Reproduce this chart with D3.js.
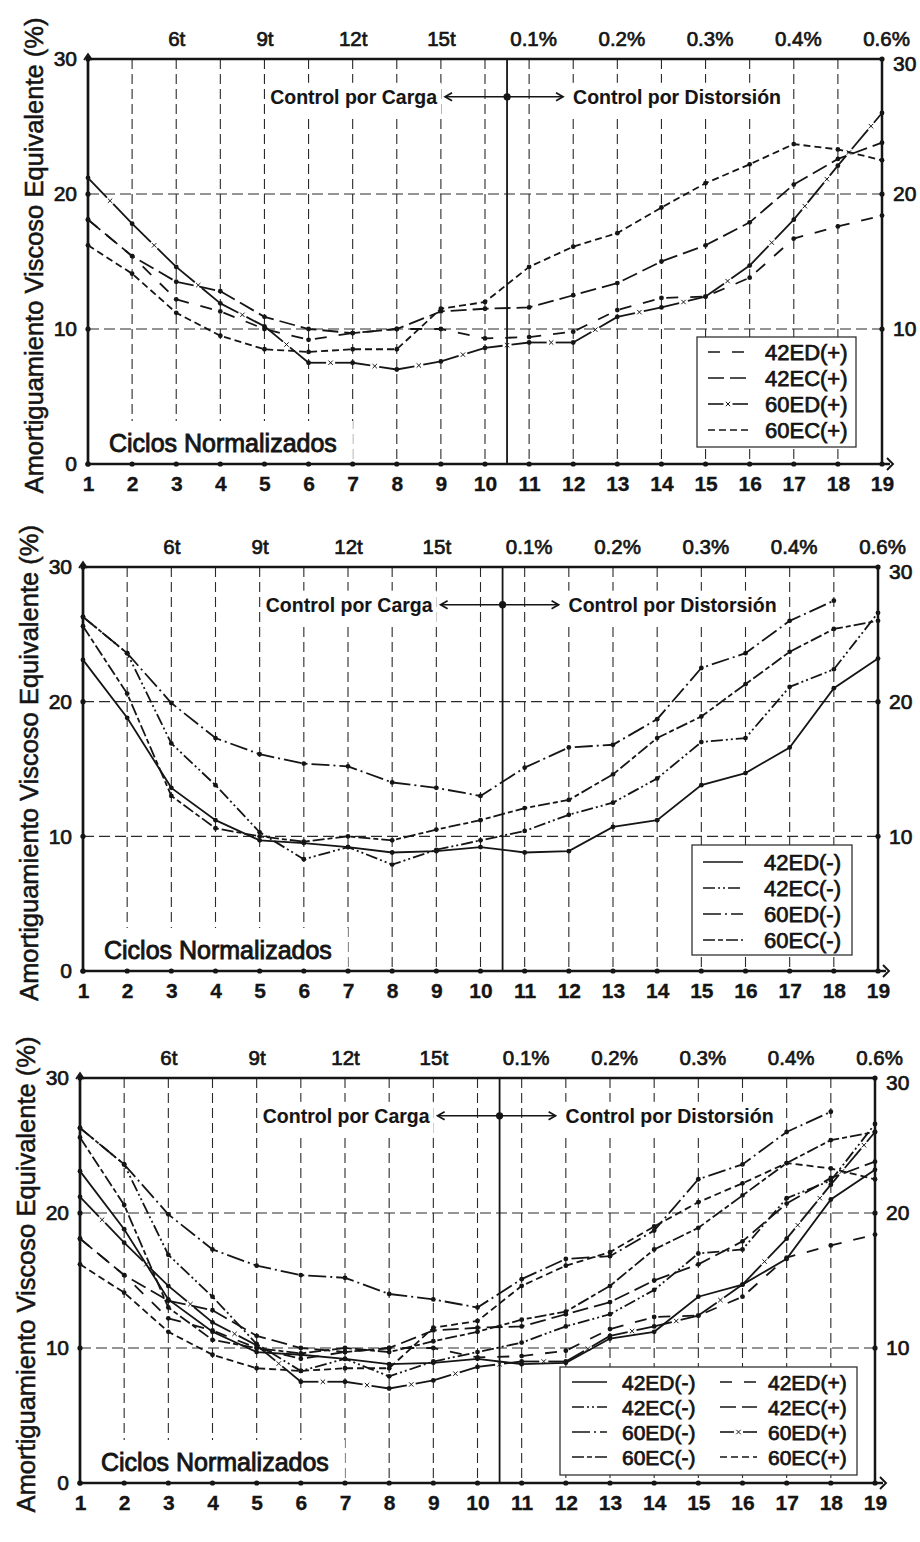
<!DOCTYPE html>
<html><head><meta charset="utf-8">
<script src="https://cdn.jsdelivr.net/npm/d3@7"></script>
<style>
html,body{margin:0;padding:0;background:#fff;}
svg{display:block;}
text{font-family:"Liberation Sans",Arial,Helvetica,sans-serif;fill:#151515;}
</style></head><body>
<svg id="chart" width="920" height="1542"></svg>
<script>
// ---------------- data ----------------
const cycles = [1,2,3,4,5,6,7,8,9,10,11,12,13,14,15,16,17,18,19];
const yTicks = [0,10,20,30];
const yTicksRight = [10,20,30];
const topTickCycles = [3,5,7,9,11,13,15,17,19];
const topTickLabels = ["6t","9t","12t","15t","0.1%","0.2%","0.3%","0.4%","0.6%"];
const switchCycle = 10.5;
const switchLevel = 27.2;
const loadLabel = "Control por Carga";
const driftLabel = "Control por Distorsión";
const xTitle = "Ciclos Normalizados";
const yTitle = "Amortiguamiento Viscoso Equivalente (%)";

const plusNames  = ["42ED(+)","42EC(+)","60ED(+)","60EC(+)"];
const minusNames = ["42ED(-)","42EC(-)","60ED(-)","60EC(-)"];

const v42EDplus  = [18.1,15.4,12.2,11.3,10.0,9.2,9.7,10.0,10.0,9.3,9.4,9.8,11.4,12.3,12.4,13.8,16.7,17.6,18.4];
const v42ECplus  = [18.1,15.4,13.5,12.8,10.9,10.0,9.7,10.0,11.3,11.5,11.6,12.5,13.4,15.0,16.2,17.9,20.7,22.6,23.8];
const v60EDplus  = [21.2,17.8,14.6,11.9,10.2,7.5,7.5,7.0,7.6,8.6,9.0,9.0,10.9,11.6,12.4,14.7,18.1,22.1,26.0];
const v60ECplus  = [16.2,14.1,11.2,9.5,8.5,8.3,8.5,8.5,11.5,12.0,14.6,16.1,17.1,19.0,20.8,22.2,23.7,23.3,22.5];

const v42EDminus = [23.1,18.8,13.6,11.2,9.7,9.5,9.2,8.8,8.9,9.2,8.8,8.9,10.7,11.2,13.8,14.7,16.6,21.0,23.2];
const v42ECminus = [26.3,23.6,16.9,13.8,10.3,8.3,9.2,7.9,9.0,9.7,10.4,11.6,12.5,14.3,17.0,17.3,21.1,22.4,26.6];
const v60EDminus = [26.3,23.6,19.9,17.3,16.1,15.4,15.2,14.0,13.6,13.0,15.1,16.6,16.8,18.7,22.5,23.6,26.0,27.5,null];
const v60ECminus = [25.6,20.6,13.0,10.6,10.0,9.6,10.0,9.7,10.5,11.2,12.1,12.7,14.6,17.3,18.9,21.3,23.7,25.4,26.0];

// ---------------- styling ----------------
const INK = "#151515";
const lineStyles = {
  "42ED(+)": {dash:"12,12"},
  "42EC(+)": {dash:"16,6"},
  "60ED(+)": {dash:null, xmarks:true},
  "60EC(+)": {dash:"7,4"},
  "42ED(-)": {dash:null},
  "42EC(-)": {dash:"12,3,2,3,2,3"},
  "60ED(-)": {dash:"18,4,2,4"},
  "60EC(-)": {dash:"12,3,5,3"}
};
const plusSeries = [
  {name:plusNames[0], values:v42EDplus},
  {name:plusNames[1], values:v42ECplus},
  {name:plusNames[2], values:v60EDplus},
  {name:plusNames[3], values:v60ECplus}
];
const minusSeries = [
  {name:minusNames[0], values:v42EDminus},
  {name:minusNames[1], values:v42ECminus},
  {name:minusNames[2], values:v60EDminus},
  {name:minusNames[3], values:v60ECminus}
];

const panels = [
  {left:88, right:882, top:59, bottom:464, series:plusSeries,
   legend:{cols:[plusSeries], rightInset:26, bottomInset:17, width:159, height:110, rowTop:15, rowGap:26, font:22,
           colX:[{s0:11,s1:51,t:68}]}},
  {left:83, right:878, top:567, bottom:971, series:minusSeries,
   legend:{cols:[minusSeries], rightInset:26, bottomInset:16, width:160, height:110, rowTop:17, rowGap:26, font:22,
           colX:[{s0:11,s1:51,t:72}]}},
  {left:80, right:875, top:1078, bottom:1483, series:minusSeries.concat(plusSeries),
   legend:{cols:[minusSeries, plusSeries], rightInset:18, bottomInset:8, width:297, height:108, rowTop:15, rowGap:25, font:21,
           colX:[{s0:12,s1:47,t:62},{s0:160,s1:197,t:208}]}}
];

const svg = d3.select("#chart");

function heavy(sel, w){ return sel.attr("stroke", INK).attr("stroke-width", w==null?0.6:w); }

function drawX(g, cx, cy){
  const r = 2.2;
  g.append("path").attr("d", `M${cx-r},${cy-r}L${cx+r},${cy+r}M${cx-r},${cy+r}L${cx+r},${cy-r}`)
    .attr("stroke", INK).attr("stroke-width", 1).attr("fill","none");
}

function segWithX(g, x0, y0, x1, y1, width){
  const len = Math.hypot(x1-x0, y1-y0);
  const n = Math.max(1, Math.round(len/45));
  const ux = (x1-x0)/len, uy = (y1-y0)/len, gap = 4.5;
  let prev = 0;
  for (let k=0;k<n;k++){
    const f = (k+0.5)/n*len;
    g.append("line").attr("x1", x0+ux*prev).attr("y1", y0+uy*prev)
      .attr("x2", x0+ux*(f-gap)).attr("y2", y0+uy*(f-gap))
      .attr("stroke", INK).attr("stroke-width", width);
    drawX(g, x0+ux*f, y0+uy*f);
    prev = f+gap;
  }
  g.append("line").attr("x1", x0+ux*prev).attr("y1", y0+uy*prev)
    .attr("x2", x1).attr("y2", y1).attr("stroke", INK).attr("stroke-width", width);
}

function drawSeries(g, s, x, y){
  const st = lineStyles[s.name];
  const pts = cycles.map((c,i)=>[c, s.values[i]]).filter(d=>d[1]!=null);
  if (st.xmarks){
    for (let i=0;i<pts.length-1;i++){
      segWithX(g, x(pts[i][0]), y(pts[i][1]), x(pts[i+1][0]), y(pts[i+1][1]), 1.8);
    }
  } else {
    g.append("path").datum(pts)
      .attr("d", d3.line().x(d=>x(d[0])).y(d=>y(d[1])))
      .attr("fill","none").attr("stroke", INK).attr("stroke-width", 1.8)
      .attr("stroke-dasharray", st.dash);
  }
  g.selectAll(null).data(pts).enter().append("circle")
    .attr("cx", d=>x(d[0])).attr("cy", d=>y(d[1])).attr("r", 2.4).attr("fill", INK);
}

function whiteBehind(gBg, textSel, padL, padR, padT, padB, bottomTo){
  const b = textSel.node().getBBox();
  const y0 = b.y - padT;
  const y1 = bottomTo!=null ? bottomTo : b.y + b.height + padB;
  gBg.append("rect").attr("x", b.x - padL).attr("y", y0)
    .attr("width", b.width + padL + padR).attr("height", y1 - y0).attr("fill","#fff");
}

panels.forEach(p => {
  const x = d3.scaleLinear().domain([1,19]).range([p.left, p.right]);
  const y = d3.scaleLinear().domain([0,30]).range([p.bottom, p.top]);
  const G = svg.append("g");
  const gGrid = G.append("g");
  const gBg = G.append("g");
  const gData = G.append("g");
  const gAxes = G.append("g");
  const gText = G.append("g");

  // grid
  gGrid.selectAll(null).data(cycles.filter(c=>c>1 && c<19)).enter().append("line")
    .attr("x1", d=>x(d)).attr("x2", d=>x(d)).attr("y1", y(30)).attr("y2", y(0))
    .attr("stroke", "#2a2a2a").attr("stroke-width", 1.1).attr("stroke-dasharray","10,5");
  gGrid.selectAll(null).data([10,20]).enter().append("line")
    .attr("x1", x(1)).attr("x2", x(19)).attr("y1", d=>y(d)).attr("y2", d=>y(d))
    .attr("stroke", "#2a2a2a").attr("stroke-width", 1.1).attr("stroke-dasharray","11,5");

  // texts: control labels & x title (with white backgrounds)
  const cx = x(switchCycle), cy = y(switchLevel);
  const tLoad = heavy(gText.append("text").attr("x", cx - 70).attr("y", cy + 7)
    .attr("text-anchor","end").attr("font-size", 19.5).attr("font-weight","bold").text(loadLabel), 0.1);
  const tDrift = heavy(gText.append("text").attr("x", cx + 66).attr("y", cy + 7)
    .attr("text-anchor","start").attr("font-size", 19.5).attr("font-weight","bold").text(driftLabel), 0.1);
  const tX = heavy(gText.append("text").attr("x", p.left + 21).attr("y", p.bottom - 12)
    .attr("font-size", 25).text(xTitle), 0.9);
  whiteBehind(gBg, tLoad, 2, 4, 3, 9);
  whiteBehind(gBg, tDrift, 4, 3, 3, 9);
  whiteBehind(gBg, tX, 6, 16, 8, 0, p.bottom);

  // series
  p.series.forEach(s => drawSeries(gData, s, x, y));

  // switch line + arrows
  gAxes.append("line").attr("x1", cx).attr("x2", cx).attr("y1", y(30)).attr("y2", y(0))
    .attr("stroke", INK).attr("stroke-width", 1.8);
  const aL = cx - 62, aR = cx + 56;
  gAxes.append("line").attr("x1", aL).attr("x2", aR).attr("y1", cy).attr("y2", cy)
    .attr("stroke", INK).attr("stroke-width", 1.6);
  gAxes.append("path").attr("d", `M${aL+7},${cy-4}L${aL},${cy}L${aL+7},${cy+4}`)
    .attr("fill","none").attr("stroke", INK).attr("stroke-width", 1.7);
  gAxes.append("path").attr("d", `M${aR-7},${cy-4}L${aR},${cy}L${aR-7},${cy+4}`)
    .attr("fill","none").attr("stroke", INK).attr("stroke-width", 1.7);
  gAxes.append("circle").attr("cx", cx).attr("cy", cy).attr("r", 3.6).attr("fill", INK);

  // frame
  gAxes.append("line").attr("x1", x(1)).attr("x2", x(19)).attr("y1", y(30)).attr("y2", y(30))
    .attr("stroke", INK).attr("stroke-width", 2.3);
  gAxes.append("line").attr("x1", x(19)).attr("x2", x(19)).attr("y1", y(30)).attr("y2", y(0))
    .attr("stroke", INK).attr("stroke-width", 2.5);
  gAxes.append("line").attr("x1", x(1)).attr("x2", x(1)).attr("y1", y(0)+1).attr("y2", y(30)-3)
    .attr("stroke", INK).attr("stroke-width", 2.7);
  gAxes.append("line").attr("x1", x(1)-1).attr("x2", x(19)+8).attr("y1", y(0)).attr("y2", y(0))
    .attr("stroke", INK).attr("stroke-width", 2.7);
  gAxes.append("path").attr("d", `M${x(1)-4},${y(30)+1}L${x(1)},${y(30)-5}L${x(1)+4},${y(30)+1}`)
    .attr("fill","none").attr("stroke", INK).attr("stroke-width", 1.7);
  gAxes.append("path").attr("d", `M${x(19)+5},${y(0)-6}L${x(19)+11},${y(0)}L${x(19)+5},${y(0)+6}`)
    .attr("fill","none").attr("stroke", INK).attr("stroke-width", 1.9);

  // axis dots
  gAxes.selectAll(null).data(cycles).enter().append("circle")
    .attr("cx", d=>x(d)).attr("cy", y(0)).attr("r", 2.6).attr("fill", INK);
  gAxes.selectAll(null).data(yTicks).enter().append("circle")
    .attr("cx", x(1)).attr("cy", d=>y(d)).attr("r", 2.6).attr("fill", INK);
  gAxes.selectAll(null).data(yTicksRight).enter().append("circle")
    .attr("cx", x(19)).attr("cy", d=>y(d)).attr("r", 2.6).attr("fill", INK);

  // axes labels via d3 axes
  const axB = gAxes.append("g").attr("transform", `translate(0,${y(0)})`)
    .call(d3.axisBottom(x).tickValues(cycles).tickSize(0).tickPadding(12).tickFormat(d3.format("d")));
  const axL = gAxes.append("g").attr("transform", `translate(${x(1)},0)`)
    .call(d3.axisLeft(y).tickValues(yTicks).tickSize(0).tickPadding(11));
  const axR = gAxes.append("g").attr("transform", `translate(${x(19)},0)`)
    .call(d3.axisRight(y).tickValues(yTicksRight).tickSize(0).tickPadding(11));
  const axT = gAxes.append("g").attr("transform", `translate(0,${y(30)})`)
    .call(d3.axisTop(x).tickValues(topTickCycles).tickSize(0).tickPadding(13)
      .tickFormat((d,i)=>topTickLabels[i]));
  [axB, axL, axR, axT].forEach(a => {
    a.select(".domain").remove();
    a.selectAll("text").attr("font-family", null).attr("fill", INK)
      .attr("stroke", INK).attr("stroke-width", 0.7);
  });
  axB.selectAll("text").attr("font-size", 21).attr("font-weight","bold").attr("stroke-width",0.3);
  axL.selectAll("text").attr("font-size", 21);
  axR.selectAll("text").attr("font-size", 21).attr("dy", d => d === 30 ? "0.55em" : "0.32em");
  axT.selectAll("text").attr("font-size", 20.5).attr("dx", d => d > 10 ? 4 : 0);

  // y title
  heavy(gText.append("text")
    .attr("transform", `translate(${p.left - 45},${(p.top + p.bottom)/2 - 6}) rotate(-90)`)
    .attr("text-anchor","middle").attr("font-size", 25.5).text(yTitle), 0.55);

  // legend
  const L = p.legend;
  const bx = p.right - L.rightInset - L.width, by = p.bottom - L.bottomInset - L.height;
  const gL = G.append("g");
  gL.append("rect").attr("x", bx).attr("y", by).attr("width", L.width).attr("height", L.height)
    .attr("fill","#fff").attr("stroke", "#333").attr("stroke-width", 1.3);
  L.cols.forEach((col, ci) => {
    const cxs = L.colX[ci];
    col.forEach((s, ri) => {
      const ry = by + L.rowTop + ri*L.rowGap;
      const st = lineStyles[s.name];
      if (st.xmarks){
        segWithX(gL, bx+cxs.s0, ry, bx+cxs.s1, ry, 1.6);
      } else {
        gL.append("line").attr("x1", bx+cxs.s0).attr("x2", bx+cxs.s1).attr("y1", ry).attr("y2", ry)
          .attr("stroke", INK).attr("stroke-width", 1.6).attr("stroke-dasharray", st.dash);
      }
      heavy(gL.append("text").attr("x", bx+cxs.t).attr("y", ry + 8)
        .attr("font-size", L.font).text(s.name), 0.75);
    });
  });
});
</script>
</body></html>
